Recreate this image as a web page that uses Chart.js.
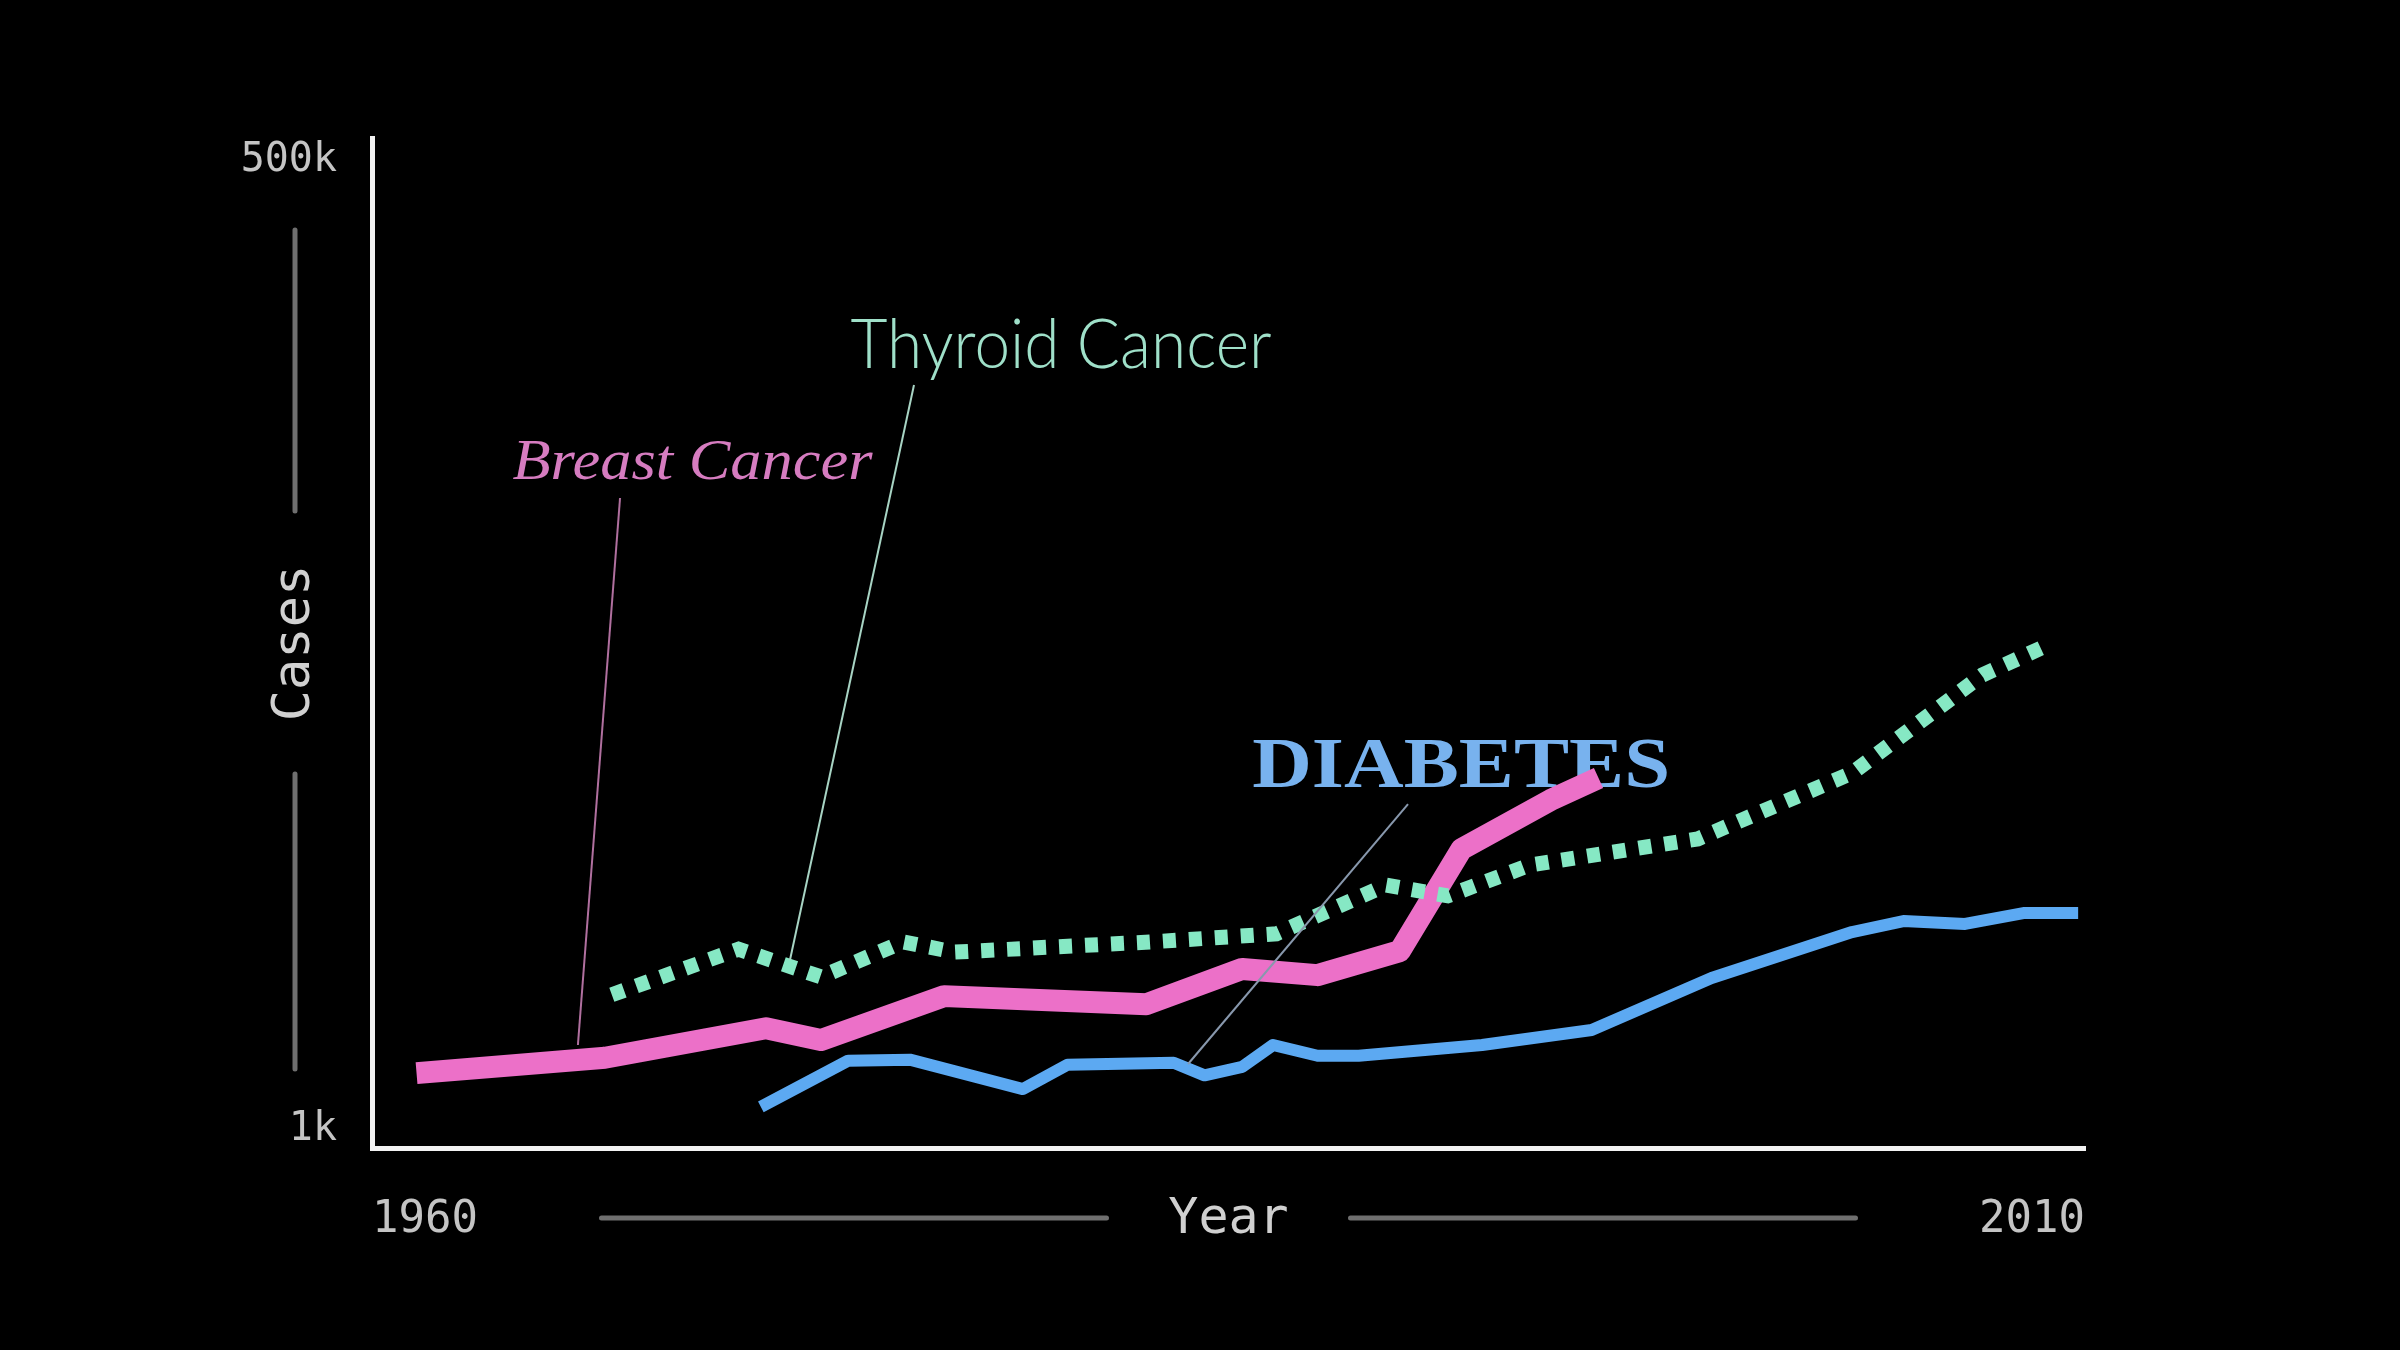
<!DOCTYPE html>
<html>
<head>
<meta charset="utf-8">
<script src="https://cdn.jsdelivr.net/npm/chart.js@4.4.0/dist/chart.umd.min.js"></script>
<style>
  html, body { margin: 0; padding: 0; background: #000; }
  canvas { display: block; }
</style>
</head>
<body>
<canvas id="chart" width="2400" height="1350" style="width:2400px;height:1350px"></canvas>
<script>
// values (log scale of cases)
const breastYears = [1961.3, 1966.8, 1971.5, 1973.1, 1976.7, 1982.6, 1985.4, 1987.6, 1990.0, 1991.8, 1994.4, 1995.8];
const breastCases = [1440, 1590, 1920, 1780, 2360, 2240, 2810, 2700, 3150, 6060, 8300, 9560];

const thyroidYears = [1967.0, 1970.7, 1973.1, 1975.5, 1977.0, 1982.7, 1986.4, 1989.6, 1991.4, 1993.8, 1998.7, 2003.2, 2007.0, 2008.9];
const thyroidCases = [2380, 3190, 2670, 3340, 3130, 3340, 3520, 4810, 4490, 5470, 6470, 9870, 18500, 22400];

const diabetesYears = [1971.35, 1973.9, 1975.7, 1979.0, 1980.3, 1983.4, 1984.3, 1985.4, 1986.3, 1987.6, 1988.8, 1992.4, 1995.6, 1999.1, 2003.2, 2004.7, 2006.5, 2008.2, 2009.8];
const diabetesCases = [1160, 1560, 1570, 1300, 1520, 1540, 1420, 1500, 1725, 1610, 1610, 1725, 1900, 2650, 3560, 3820, 3750, 4020, 4020];

const xTicks = [1960, 2010];
const yTicks = [1000, 500000];
const yTickLabels = ["1k", "500k"];

// label anchors in data units: [year, cases]
const labels = [
  { text: "Breast Cancer", at: [1964.1, 65100], width: 360, font: "italic 58px 'Liberation Serif'", color: "#d67cc0",
    from: [1967.24, 57600], to: [1966.01, 1725], line: "#b0709f" },
  { text: "Thyroid Cancer", at: [1973.97, 132600], width: 421, font: "300 68px Lato", color: "#9fe0c9",
    from: [1975.82, 118900], to: [1972.2, 2976], line: "#a8d4c4" },
  { text: "DIABETES", at: [1985.69, 9024], width: 418, font: "bold 72px 'Liberation Serif'", color: "#78b2ee",
    from: [1990.24, 8091], to: [1983.82, 1527], line: "#8898ad" }
];

function points(xs, ys) {
  return xs.map((x, i) => ({ x: x, y: ys[i] }));
}

function fitText(ctx, text, x, y, width, font, color) {
  ctx.save();
  ctx.font = font;
  ctx.fillStyle = color;
  ctx.textBaseline = "alphabetic";
  const w = ctx.measureText(text).width;
  ctx.translate(x, y);
  ctx.scale(width / w, 1);
  ctx.fillText(text, 0, 0);
  ctx.restore();
}

const decor = {
  id: "decor",
  beforeDatasetsDraw(chart) {
    const { ctx, scales: { x, y } } = chart;
    labels.forEach(l => {
      fitText(ctx, l.text, x.getPixelForValue(l.at[0]), y.getPixelForValue(l.at[1]), l.width, l.font, l.color);
    });
  },
  afterDatasetsDraw(chart) {
    const { ctx, scales: { x, y } } = chart;
    ctx.save();
    ctx.lineWidth = 2;
    labels.forEach(l => {
      ctx.strokeStyle = l.line;
      ctx.beginPath();
      ctx.moveTo(x.getPixelForValue(l.from[0]), y.getPixelForValue(l.from[1]));
      ctx.lineTo(x.getPixelForValue(l.to[0]), y.getPixelForValue(l.to[1]));
      ctx.stroke();
    });
    ctx.restore();
  },
  afterDraw(chart) {
    const { ctx, chartArea: a } = chart;
    const cx = (a.left + a.right) / 2;
    const cy = (a.top + a.bottom) / 2;
    ctx.save();
    ctx.strokeStyle = "#6f6f6f";
    ctx.lineWidth = 5;
    ctx.lineCap = "round";
    // lines either side of "Year"
    const ly = a.bottom + 70;
    ctx.beginPath();
    ctx.moveTo(cx - 627, ly); ctx.lineTo(cx - 122, ly);
    ctx.moveTo(cx + 122, ly); ctx.lineTo(cx + 627, ly);
    // lines either side of "Cases"
    const lx = 295;
    ctx.moveTo(lx, cy - 413); ctx.lineTo(lx, cy - 132);
    ctx.moveTo(lx, cy + 131); ctx.lineTo(lx, cy + 426);
    ctx.stroke();
    ctx.restore();
  }
};

const tickFont = { family: "'DejaVu Sans Mono', monospace", size: 44 };

new Chart(document.getElementById("chart"), {
  type: "line",
  data: {
    datasets: [
      {
        label: "Thyroid Cancer",
        data: points(thyroidYears, thyroidCases),
        borderColor: "#86e8c4",
        borderWidth: 15,
        borderDash: [13, 13],
        borderCapStyle: "butt",
        pointRadius: 0,
        tension: 0
      },
      {
        label: "Breast Cancer",
        data: points(breastYears, breastCases),
        borderColor: "#ec70c8",
        borderWidth: 22,
        borderJoinStyle: "round",
        pointRadius: 0,
        tension: 0
      },
      {
        label: "Diabetes",
        data: points(diabetesYears, diabetesCases),
        borderColor: "#5ca9f2",
        borderWidth: 12,
        borderJoinStyle: "round",
        pointRadius: 0,
        tension: 0
      }
    ]
  },
  options: {
    responsive: false,
    devicePixelRatio: 1,
    animation: false,
    layout: { padding: { top: 138, right: 315, bottom: 0, left: 0 } },
    plugins: { legend: { display: false }, tooltip: { enabled: false } },
    scales: {
      x: {
        type: "linear",
        min: 1960,
        max: 2010,
        grid: { display: false, drawTicks: false },
        border: { color: "#f2f2f2", width: 5 },
        afterBuildTicks: s => { s.ticks = xTicks.map(v => ({ value: v })); },
        afterFit: s => { s.height = 202; },
        ticks: {
          align: "inner",
          padding: 46,
          color: "#c4c4c4",
          font: tickFont,
          maxRotation: 0,
          autoSkip: false,
          callback: v => String(v)
        },
        title: {
          display: true,
          text: "Year",
          color: "#d0d0d0",
          font: { family: "'DejaVu Sans Mono', monospace", size: 50 },
          padding: { top: 0, bottom: 100 }
        }
      },
      y: {
        type: "logarithmic",
        min: 891,
        max: 579700,
        grid: { display: false, drawTicks: false },
        border: { color: "#f2f2f2", width: 5 },
        afterBuildTicks: s => { s.ticks = yTicks.map(v => ({ value: v })); },
        afterFit: s => { s.width = 372; },
        ticks: {
          padding: 35,
          color: "#c4c4c4",
          font: { family: "'DejaVu Sans Mono', monospace", size: 40 },
          autoSkip: false,
          callback: v => yTickLabels[yTicks.indexOf(v)]
        },
        title: {
          display: true,
          text: "Cases",
          color: "#d0d0d0",
          font: { family: "'DejaVu Sans Mono', monospace", size: 52 },
          padding: { top: 264, bottom: 0 }
        }
      }
    }
  },
  plugins: [decor]
});
</script>
</body>
</html>
